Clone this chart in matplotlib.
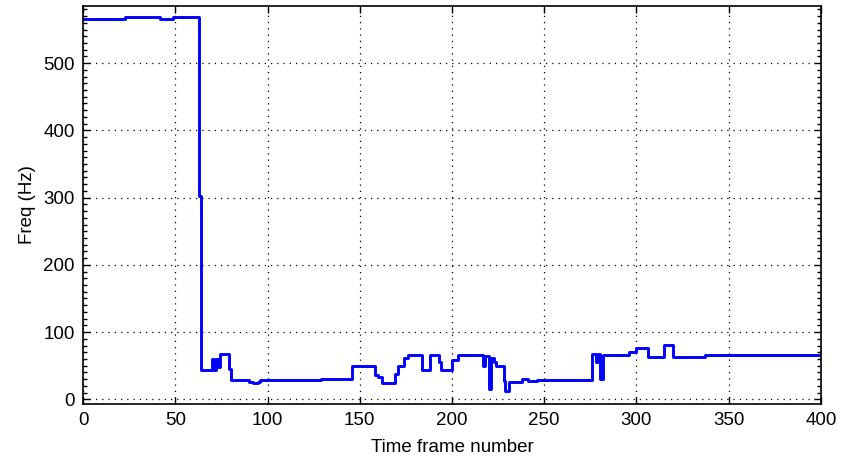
import matplotlib
matplotlib.use("Agg")
import matplotlib.pyplot as plt
from matplotlib.ticker import MultipleLocator

# Step breakpoints: frame where a new value starts, and the value (Hz)
frames = [0, 23, 42, 49, 62, 63, 64, 70, 71, 72, 73, 74, 79, 80, 90, 92, 95, 96,
          129, 146, 158, 160, 162, 169, 171, 174, 176, 184, 188, 193, 194, 200,
          203, 215, 217, 218, 220, 221, 223, 224, 228, 229, 231, 238, 241, 246,
          276, 278, 279, 280, 282, 296, 300, 306, 315, 320, 337, 400]
freqs = [566, 569, 566, 569, 569, 303, 44, 60, 44, 60, 48, 68, 45, 28, 26, 24, 26, 28,
         30, 50, 36, 33, 24, 37, 49, 62, 66, 44, 66, 55, 44, 59,
         66, 66, 50, 64, 15, 62, 55, 50, 27, 12, 26, 30, 27, 29,
         67, 55, 67, 30, 66, 70, 77, 63, 81, 63, 66, 66]

x_ticks = [0, 50, 100, 150, 200, 250, 300, 350, 400]
y_ticks = [0, 100, 200, 300, 400, 500]

plt.rcParams['font.family'] = ['Liberation Sans', 'DejaVu Sans']

fig = plt.figure(figsize=(8.41, 4.62), dpi=100)
ax = fig.add_axes([0.0987, 0.1255, 0.8775, 0.8615])

ax.plot(frames, freqs, drawstyle='steps-post', color=(0, 0, 1), linewidth=2.1)

ax.set_xlim(0, 400)
ax.set_ylim(-7, 585)
ax.set_xticks(x_ticks)
ax.set_yticks(y_ticks)
ax.yaxis.set_minor_locator(MultipleLocator(10))
ax.grid(True, which='major', linestyle=(0, (1, 4)), color='black', linewidth=0.9)

ax.tick_params(which='both', direction='in', top=True, right=True,
               labelsize=13.5, pad=6, color='black')
ax.tick_params(which='major', length=5, width=1)
ax.tick_params(which='minor', length=3, width=1)
for s in ax.spines.values():
    s.set_linewidth(1.2)

ax.set_xlabel('Time frame number', fontsize=13.5, labelpad=7)
ax.set_ylabel('Freq (Hz)', fontsize=13.5, labelpad=5)

fig.savefig('out.png', dpi=100)
